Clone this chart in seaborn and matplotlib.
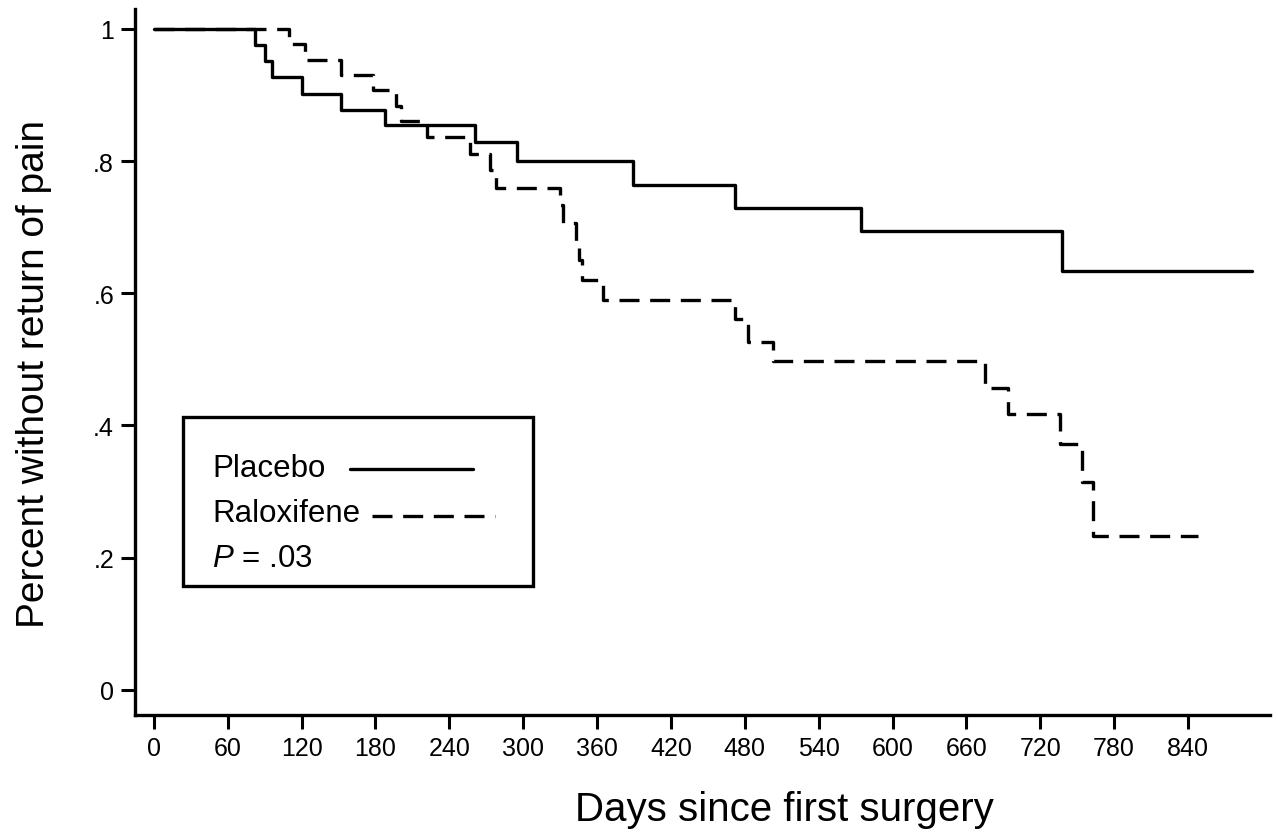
import numpy as np
import pandas as pd
import matplotlib
matplotlib.use("Agg")
import matplotlib.pyplot as plt
from matplotlib.lines import Line2D
from matplotlib.patches import Rectangle
import seaborn as sns

# Kaplan-Meier steps (day of step, survival after step)
placebo_days = [0, 82, 90, 96, 120, 152, 188, 261, 295, 389, 472, 574, 738, 892]
placebo_surv = [1.0, 0.976, 0.951, 0.927, 0.902, 0.878, 0.854, 0.829, 0.800,
                0.764, 0.729, 0.694, 0.634, 0.634]

ralox_days = [0, 110, 123, 152, 178, 197, 201, 222, 257, 273, 278, 330, 332,
              343, 345, 348, 365, 472, 483, 503, 675, 694, 736, 754, 763, 848]
ralox_surv = [1.0, 0.977, 0.953, 0.930, 0.907, 0.884, 0.860, 0.836, 0.811,
              0.786, 0.760, 0.733, 0.706, 0.679, 0.650, 0.620, 0.590, 0.561,
              0.526, 0.497, 0.456, 0.417, 0.372, 0.314, 0.233, 0.233]

x_ticks = list(range(0, 841, 60))
y_ticks = [0, 0.2, 0.4, 0.6, 0.8, 1.0]
y_ticklabels = ["0", ".2", ".4", ".6", ".8", "1"]

df = pd.concat([
    pd.DataFrame({"day": placebo_days, "surv": placebo_surv, "group": "Placebo"}),
    pd.DataFrame({"day": ralox_days, "surv": ralox_surv, "group": "Raloxifene"}),
])

sns.set_style("ticks")
plt.rcParams["font.family"] = ["Liberation Sans", "DejaVu Sans"]
plt.rcParams["text.color"] = "black"
plt.rcParams["axes.labelcolor"] = "black"
plt.rcParams["mathtext.fontset"] = "custom"
plt.rcParams["mathtext.rm"] = "Liberation Sans"
plt.rcParams["mathtext.it"] = "Liberation Sans:italic"

fig = plt.figure(figsize=(12.78, 8.37), dpi=100)
ax = fig.add_axes([0.1056, 0.1446, 0.8881, 0.8434])

lw = 2.4
sns.lineplot(data=df, x="day", y="surv", style="group",
             dashes={"Placebo": "", "Raloxifene": (6, 3.2)},
             color="black", linewidth=lw, drawstyle="steps-post",
             estimator=None, legend=False, ax=ax)

ax.set_xlim(-15.4, 906.6)
ax.set_ylim(-0.038, 1.03)
ax.set_xticks(x_ticks)
ax.set_yticks(y_ticks)
ax.set_yticklabels(y_ticklabels)
ax.tick_params(axis="both", labelsize=18, length=10, width=2.2, color="black",
               labelcolor="black", pad=5)
for side in ["top", "right"]:
    ax.spines[side].set_visible(False)
for side in ["left", "bottom"]:
    ax.spines[side].set_linewidth(2.4)
    ax.spines[side].set_color("black")

ax.set_xlabel("Days since first surgery", fontsize=29, labelpad=22, x=0.572)
ax.set_ylabel("Percent without return of pain", fontsize=28, labelpad=30, y=0.485)

# legend box drawn by hand (text left, line sample right)
ax.add_patch(Rectangle((0.0423, 0.1827), 0.3084, 0.2393, transform=ax.transAxes,
                       fill=False, edgecolor="black", linewidth=2.4, zorder=5))
ax.text(0.0678, 0.3385, "Placebo", transform=ax.transAxes, fontsize=22.5,
        va="baseline", ha="left")
ax.text(0.0678, 0.2748, "Raloxifene", transform=ax.transAxes, fontsize=22.5,
        va="baseline", ha="left")
ax.text(0.0678, 0.211, r"$P$ = .03", transform=ax.transAxes, fontsize=22.5,
        va="baseline", ha="left")
ax.add_line(Line2D([0.1894, 0.2978], [0.3484, 0.3484], transform=ax.transAxes,
                   color="black", linewidth=lw))
ax.add_line(Line2D([0.2088, 0.3172], [0.2819, 0.2819], transform=ax.transAxes,
                   color="black", linewidth=lw, dashes=(6, 3.2)))

fig.savefig("out.png", dpi=100)
